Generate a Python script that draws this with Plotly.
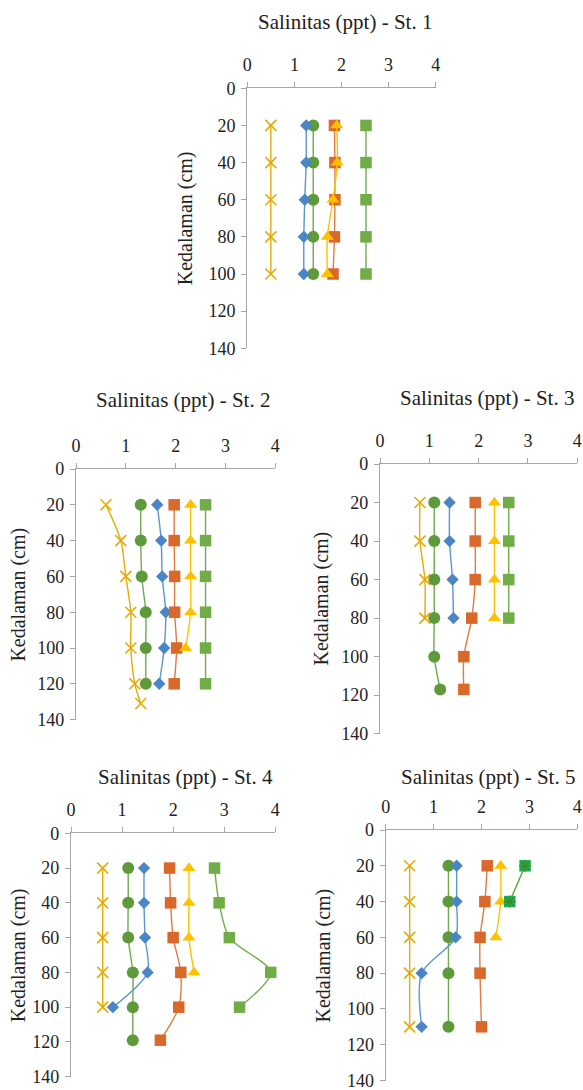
import plotly.graph_objects as go

W, H = 583, 1090

# ---------------- data ----------------
station_titles = ["Salinitas (ppt) - St. 1", "Salinitas (ppt) - St. 2", "Salinitas (ppt) - St. 3",
                  "Salinitas (ppt) - St. 4", "Salinitas (ppt) - St. 5"]
y_title = "Kedalaman (cm)"
x_ticks = [0, 1, 2, 3, 4]
y_ticks = [0, 20, 40, 60, 80, 100, 120, 140]

series_names = ["Seri X", "Seri bulat", "Seri belah ketupat", "Seri kotak oranye", "Seri segitiga", "Seri kotak hijau"]

# St. 1
st1_x_depth = [20, 40, 60, 80, 100]
st1_x_val = [0.5, 0.5, 0.5, 0.5, 0.5]
st1_circle_depth = [20, 40, 60, 80, 100]
st1_circle_val = [1.4, 1.4, 1.4, 1.4, 1.4]
st1_diamond_depth = [20, 40, 60, 80, 100]
st1_diamond_val = [1.25, 1.25, 1.22, 1.2, 1.2]
st1_osq_depth = [20, 40, 60, 80, 100]
st1_osq_val = [1.85, 1.86, 1.86, 1.85, 1.82]
st1_tri_depth = [20, 40, 60, 80, 100]
st1_tri_val = [1.9, 1.91, 1.82, 1.7, 1.7]
st1_gsq_depth = [20, 40, 60, 80, 100]
st1_gsq_val = [2.52, 2.52, 2.52, 2.52, 2.52]

# St. 2
st2_x_depth = [20, 40, 60, 80, 100, 120, 131]
st2_x_val = [0.6, 0.9, 1.0, 1.1, 1.1, 1.18, 1.3]
st2_circle_depth = [20, 40, 60, 80, 100, 120]
st2_circle_val = [1.3, 1.3, 1.32, 1.4, 1.4, 1.4]
st2_diamond_depth = [20, 40, 60, 80, 100, 120]
st2_diamond_val = [1.63, 1.71, 1.73, 1.8, 1.77, 1.67]
st2_osq_depth = [20, 40, 60, 80, 100, 120]
st2_osq_val = [1.97, 1.97, 1.98, 1.98, 2.02, 1.97]
st2_tri_depth = [20, 40, 60, 80, 100]
st2_tri_val = [2.3, 2.3, 2.3, 2.3, 2.2]
st2_gsq_depth = [20, 40, 60, 80, 100, 120]
st2_gsq_val = [2.6, 2.6, 2.6, 2.6, 2.6, 2.6]

# St. 3
st3_x_depth = [20, 40, 60, 80]
st3_x_val = [0.81, 0.81, 0.91, 0.91]
st3_circle_depth = [20, 40, 60, 80, 100, 117]
st3_circle_val = [1.1, 1.1, 1.1, 1.1, 1.1, 1.22]
st3_diamond_depth = [20, 40, 60, 80]
st3_diamond_val = [1.41, 1.41, 1.47, 1.49]
st3_osq_depth = [20, 40, 60, 80, 100, 117]
st3_osq_val = [1.93, 1.93, 1.93, 1.86, 1.7, 1.7]
st3_tri_depth = [20, 40, 60, 80]
st3_tri_val = [2.32, 2.32, 2.32, 2.32]
st3_gsq_depth = [20, 40, 60, 80]
st3_gsq_val = [2.61, 2.61, 2.61, 2.61]

# St. 4
st4_x_depth = [20, 40, 60, 80, 100]
st4_x_val = [0.62, 0.62, 0.62, 0.62, 0.62]
st4_circle_depth = [20, 40, 60, 80, 100, 119]
st4_circle_val = [1.12, 1.12, 1.12, 1.21, 1.21, 1.21]
st4_diamond_depth = [20, 40, 60, 80, 100]
st4_diamond_val = [1.43, 1.43, 1.45, 1.5, 0.82]
st4_osq_depth = [20, 40, 60, 80, 100, 119]
st4_osq_val = [1.93, 1.95, 2.0, 2.15, 2.11, 1.75]
st4_tri_depth = [20, 40, 60, 80]
st4_tri_val = [2.31, 2.31, 2.31, 2.41]
st4_gsq_depth = [20, 40, 60, 80, 100]
st4_gsq_val = [2.81, 2.9, 3.1, 3.91, 3.3]

# St. 5
st5_x_depth = [20, 40, 60, 80, 110]
st5_x_val = [0.5, 0.5, 0.5, 0.5, 0.5]
st5_circle_depth = [20, 40, 60, 80, 110]
st5_circle_val = [1.31, 1.31, 1.31, 1.31, 1.31]
st5_diamond_depth = [20, 40, 60, 80, 110]
st5_diamond_val = [1.48, 1.48, 1.46, 0.75, 0.75]
st5_osq_depth = [20, 40, 60, 80, 110]
st5_osq_val = [2.12, 2.07, 1.97, 1.97, 2.0]
st5_tri_depth = [20, 40, 60]
st5_tri_val = [2.4, 2.4, 2.3]
st5_gsq_depth = [20, 40]
st5_gsq_val = [2.91, 2.59]

stations = [
    [(st1_x_depth, st1_x_val), (st1_circle_depth, st1_circle_val), (st1_diamond_depth, st1_diamond_val),
     (st1_osq_depth, st1_osq_val), (st1_tri_depth, st1_tri_val), (st1_gsq_depth, st1_gsq_val)],
    [(st2_x_depth, st2_x_val), (st2_circle_depth, st2_circle_val), (st2_diamond_depth, st2_diamond_val),
     (st2_osq_depth, st2_osq_val), (st2_tri_depth, st2_tri_val), (st2_gsq_depth, st2_gsq_val)],
    [(st3_x_depth, st3_x_val), (st3_circle_depth, st3_circle_val), (st3_diamond_depth, st3_diamond_val),
     (st3_osq_depth, st3_osq_val), (st3_tri_depth, st3_tri_val), (st3_gsq_depth, st3_gsq_val)],
    [(st4_x_depth, st4_x_val), (st4_circle_depth, st4_circle_val), (st4_diamond_depth, st4_diamond_val),
     (st4_osq_depth, st4_osq_val), (st4_tri_depth, st4_tri_val), (st4_gsq_depth, st4_gsq_val)],
    [(st5_x_depth, st5_x_val), (st5_circle_depth, st5_circle_val), (st5_diamond_depth, st5_diamond_val),
     (st5_osq_depth, st5_osq_val), (st5_tri_depth, st5_tri_val), (st5_gsq_depth, st5_gsq_val)],
]

# ---------------- styles ----------------
styles = [
    dict(symbol="x-thin-open", size=11, color="#E8A900", line="#E8A900", lw=1.6),
    dict(symbol="circle", size=12, color="#5E9A3A", line="#6FA84D", lw=0),
    dict(symbol="diamond", size=9.5, color="#4A86C5", line="#5B95D0", lw=0),
    dict(symbol="square", size=11.5, color="#D8692A", line="#E07A40", lw=0),
    dict(symbol="triangle-up", size=11.5, color="#FFC000", line="#FFC000", lw=0),
    dict(symbol="square", size=11.5, color="#70AD47", line="#70AD47", lw=0),
]

# plot areas in pixels: (left, right, top, bottom)
areas = [
    (247.3, 435.7, 88.3, 348.3),
    (76.0, 275.3, 469.0, 719.6),
    (380.0, 577.3, 464.0, 733.7),
    (71.0, 275.3, 833.3, 1076.7),
    (385.7, 577.3, 830.0, 1080.5),
]
title_pos = [(345, 21.7), (183.3, 400), (486.7, 398.3), (185, 776.7), (488.3, 776.7)]
ytitle_x = [185, 18.3, 321.7, 18.3, 323.3]

FONT = "Liberation Serif, Times New Roman, DejaVu Serif, serif"
AXC = "#A6A6A6"

fig = go.Figure()
annotations = []

for i, (series, area) in enumerate(zip(stations, areas)):
    n = i + 1
    xa = "x" if n == 1 else f"x{n}"
    ya = "y" if n == 1 else f"y{n}"
    for k, ((depth, vals), st) in enumerate(zip(series, styles)):
        special = (n == 5 and k == 5)
        fig.add_trace(go.Scatter(
            x=vals, y=depth, xaxis=xa, yaxis=ya, mode="lines+markers",
            name=series_names[k], showlegend=False, cliponaxis=False,
            line=dict(color="#4CA83A" if special else st["line"], width=1.4, shape="spline", smoothing=0.8),
            marker=dict(symbol=st["symbol"], size=st["size"], color="#1FB04C" if special else st["color"],
                        line=dict(color=st["line"], width=st["lw"])),
        ))
        if special:
            fig.add_trace(go.Scatter(
                x=vals, y=depth, xaxis=xa, yaxis=ya, mode="markers",
                showlegend=False, cliponaxis=False, hoverinfo="skip",
                marker=dict(symbol="asterisk-open", size=10, color="#3F8A2C",
                            line=dict(color="#3F8A2C", width=1.2)),
            ))
    l, r, t, b = area
    fig.layout[("xaxis" if n == 1 else f"xaxis{n}")] = dict(
        domain=[l / W, r / W], anchor=ya, side="top", range=[0, 4], automargin=False,
        tickvals=x_ticks, ticktext=[str(v) for v in x_ticks], ticklabeloverflow="allow",
        showline=True, linecolor=AXC, linewidth=1.3, ticks="outside", ticklen=5, tickcolor=AXC,
        tickwidth=1.3, showgrid=False, zeroline=False, ticklabelstandoff=4,
        tickfont=dict(family=FONT, size=18, color="#222"), fixedrange=True,
    )
    fig.layout[("yaxis" if n == 1 else f"yaxis{n}")] = dict(
        domain=[1 - b / H, 1 - t / H], anchor=xa, range=[140, 0], automargin=False,
        tickvals=y_ticks, ticktext=[str(v) for v in y_ticks], ticklabeloverflow="allow",
        showline=True, linecolor=AXC, linewidth=1.3, ticks="outside", ticklen=5, tickcolor=AXC,
        tickwidth=1.3, showgrid=False, zeroline=False, ticklabelstandoff=2,
        tickfont=dict(family=FONT, size=18, color="#222"), fixedrange=True,
    )
    tx, ty = title_pos[i]
    annotations.append(dict(text=station_titles[i], x=tx / W, y=1 - ty / H, xref="paper", yref="paper",
                            xanchor="center", yanchor="middle", showarrow=False,
                            font=dict(family=FONT, size=21, color="#222")))
    annotations.append(dict(text=y_title, x=ytitle_x[i] / W, y=1 - ((t + b) / 2) / H, xref="paper", yref="paper",
                            xanchor="center", yanchor="middle", showarrow=False, textangle=-90,
                            font=dict(family=FONT, size=20, color="#222")))

fig.update_layout(width=W, height=H, margin=dict(l=0, r=0, t=0, b=0, pad=0),
                  paper_bgcolor="white", plot_bgcolor="white", annotations=annotations)

fig.write_html("out.html", config={"displayModeBar": False},
               post_script="document.body.style.margin='0';document.body.style.padding='0';")
